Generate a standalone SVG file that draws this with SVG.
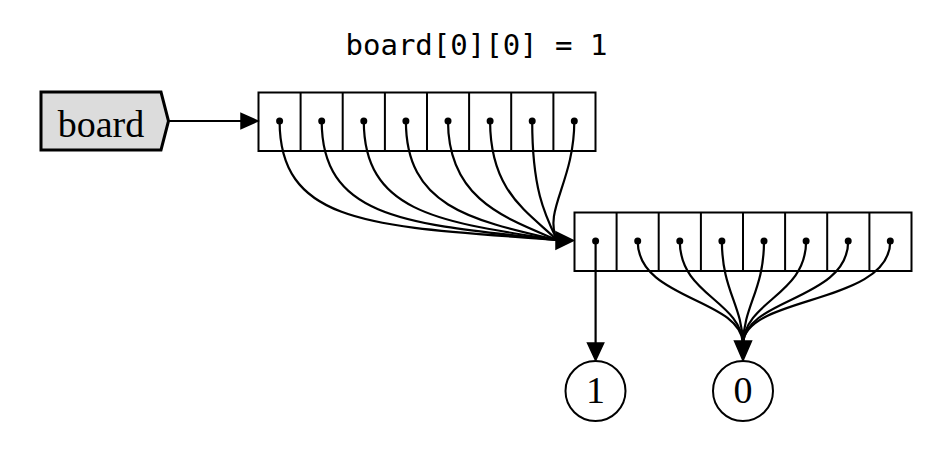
<svg xmlns="http://www.w3.org/2000/svg" width="944" height="450" viewBox="0 0 944 450">
<defs>
<style>
.cell{fill:#fff;stroke:#000;stroke-width:2}
.dot{fill:#000}
.edge{fill:none;stroke:#000;stroke-width:2.2}
.head{fill:#000;stroke:#000;stroke-width:1.5}
.lbl{font-family:"Liberation Serif","Times New Roman",serif;font-size:38px;fill:#000;text-anchor:middle}
.mono{font-family:"DejaVu Sans Mono","Liberation Mono",monospace;font-size:29px;fill:#000}
</style>
</defs>
<rect width="944" height="450" fill="#fff"/>
<text class="mono" x="345.5" y="55">board[0][0] = 1</text>

<g id="board">
<polygon points="41,92 161,92 168.5,121 161,150 41,150" fill="#dcdcdc" stroke="#000" stroke-width="3"/>
<text class="lbl" x="101" y="136.5">board</text>
</g>

<g id="row0">
<rect class="cell" x="258.5" y="92.5" width="337" height="58.5"/>
<path d="M300.6,92.5V151M342.7,92.5V151M384.9,92.5V151M427,92.5V151M469.1,92.5V151M511.2,92.5V151M553.4,92.5V151" stroke="#000" stroke-width="2"/>
<circle class="dot" cx="279.6" cy="121" r="3.5"/>
<circle class="dot" cx="321.7" cy="121" r="3.5"/>
<circle class="dot" cx="363.8" cy="121" r="3.5"/>
<circle class="dot" cx="405.9" cy="121" r="3.5"/>
<circle class="dot" cx="448" cy="121" r="3.5"/>
<circle class="dot" cx="490.1" cy="121" r="3.5"/>
<circle class="dot" cx="532.2" cy="121" r="3.5"/>
<circle class="dot" cx="574.3" cy="121" r="3.5"/>
</g>

<g id="row1">
<rect class="cell" x="574.5" y="212.5" width="337" height="58.5"/>
<path d="M616.6,212.5V271M658.7,212.5V271M700.9,212.5V271M743,212.5V271M785.1,212.5V271M827.2,212.5V271M869.4,212.5V271" stroke="#000" stroke-width="2"/>
<circle class="dot" cx="595.6" cy="241" r="3.5"/>
<circle class="dot" cx="637.7" cy="241" r="3.5"/>
<circle class="dot" cx="679.8" cy="241" r="3.5"/>
<circle class="dot" cx="721.9" cy="241" r="3.5"/>
<circle class="dot" cx="764" cy="241" r="3.5"/>
<circle class="dot" cx="806.1" cy="241" r="3.5"/>
<circle class="dot" cx="848.2" cy="241" r="3.5"/>
<circle class="dot" cx="890.3" cy="241" r="3.5"/>
</g>

<g id="one">
<circle cx="595.5" cy="391" r="30" fill="#fff" stroke="#000" stroke-width="2"/>
<text class="lbl" x="595.5" y="402.5">1</text>
</g>

<g id="zero">
<circle cx="743" cy="391" r="30" fill="#fff" stroke="#000" stroke-width="2"/>
<text class="lbl" x="743" y="402.5">0</text>
</g>

<g id="connectors">
<path class="edge" d="M168.5,121H241"/>
<polygon class="head" points="241,113.5 258,121 241,128.5"/>

<path class="edge" d="M279.6,121C279.6,228 380,226 557,240"/>
<path class="edge" d="M321.7,121C321.7,220 410,224 557,240"/>
<path class="edge" d="M363.8,121C363.8,213 440,222 557,240"/>
<path class="edge" d="M405.9,121C405.9,206 470,220 557,240"/>
<path class="edge" d="M448,121C448,199 505,218 557,240"/>
<path class="edge" d="M490.1,121C490.1,192 528,212 557,240"/>
<path class="edge" d="M532.2,121C532.2,190 545,215 557,240"/>
<path class="edge" d="M574.3,121C574.3,182 543,210 557,240"/>
<polygon class="head" points="556,232 573.5,240.5 556,249"/>

<path class="edge" d="M595.6,241V343"/>
<polygon class="head" points="587.5,343 595.6,360.5 603.7,343"/>

<path class="edge" d="M637.7,241C637.7,300 740,298 743,343"/>
<path class="edge" d="M679.8,241C679.8,295 740,300 743,343"/>
<path class="edge" d="M721.9,241C721.9,290 742,305 743,343"/>
<path class="edge" d="M764,241C764,290 744,305 743,343"/>
<path class="edge" d="M806.1,241C806.1,295 746,300 743,343"/>
<path class="edge" d="M848.2,241C848.2,300 746,298 743,343"/>
<path class="edge" d="M890.3,241C890.3,305 746,295 743,343"/>
<polygon class="head" points="734.5,341 743,360.5 751.5,341"/>
</g>
</svg>
